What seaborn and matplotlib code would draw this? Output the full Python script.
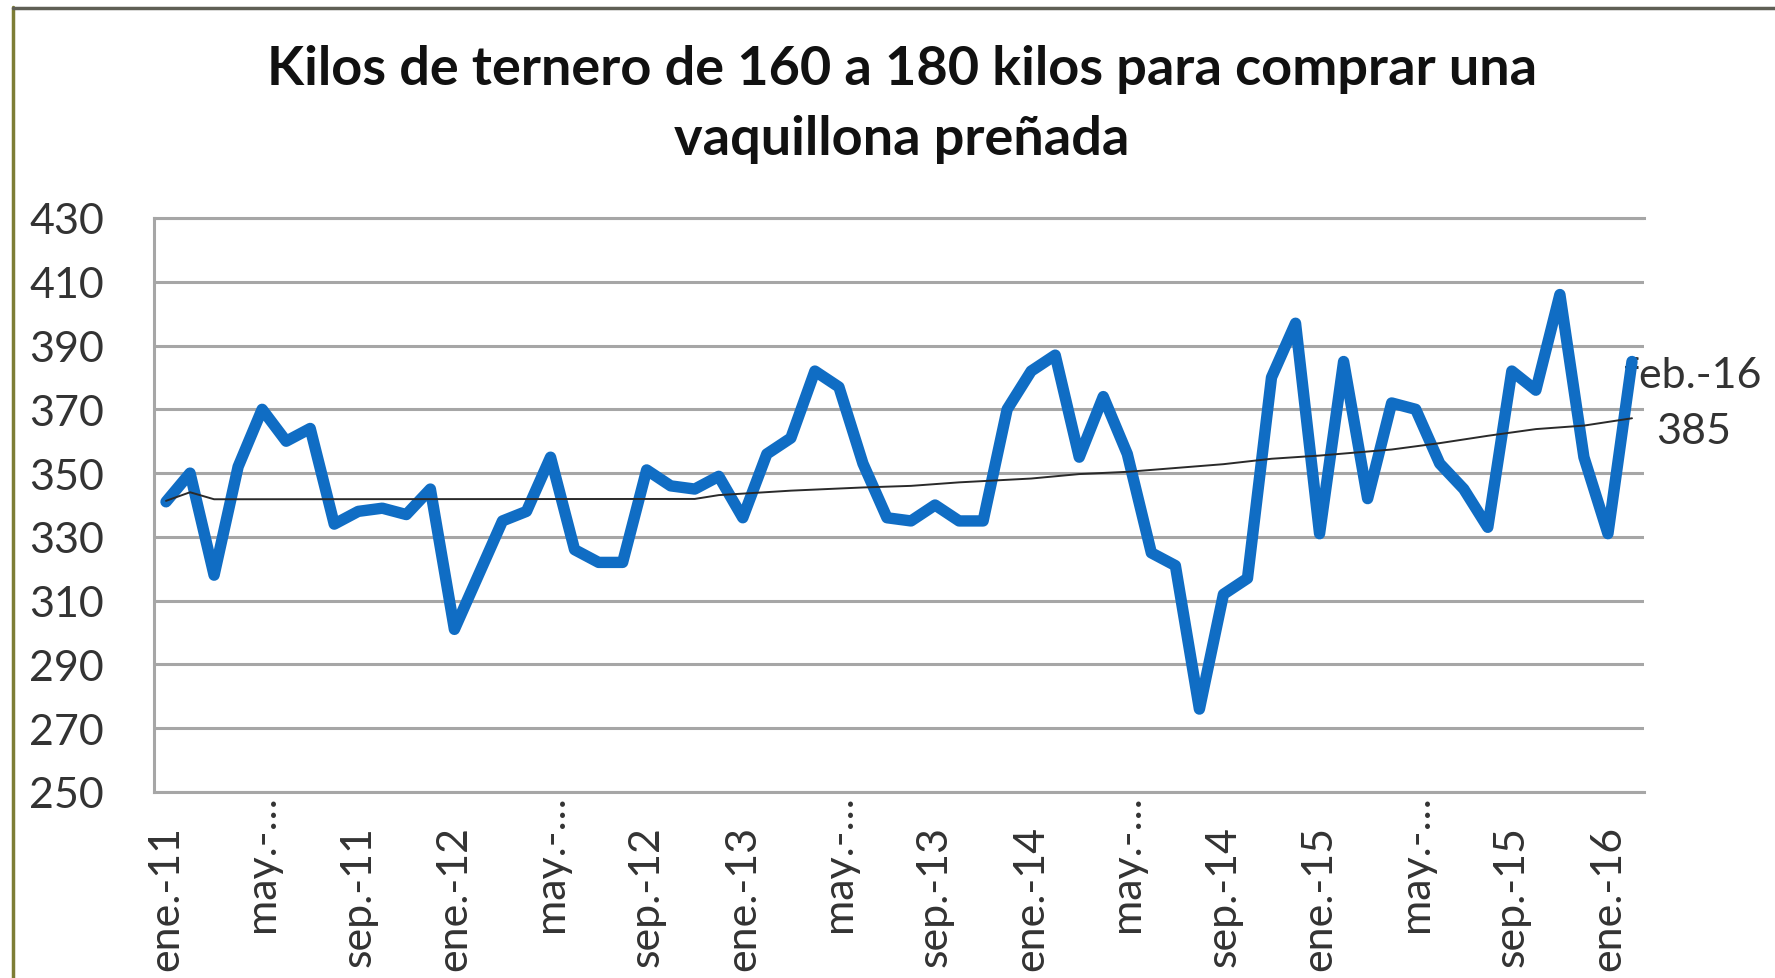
import numpy as np
import pandas as pd
import matplotlib
matplotlib.use("Agg")
import matplotlib.pyplot as plt
from matplotlib.lines import Line2D
import seaborn as sns

# monthly series, ene-11 .. feb-16 (kilos de ternero por vaquillona)
kilos = [341, 350, 318, 352, 370, 360, 364, 334, 338, 339, 337, 345,
         301, 318, 335, 338, 355, 326, 322, 322, 351, 346, 345, 349,
         336, 356, 361, 382, 377, 353, 336, 335, 340, 335, 335, 370,
         382, 387, 355, 374, 356, 325, 321, 276, 312, 317, 380, 397,
         331, 385, 342, 372, 370, 353, 345, 333, 382, 376, 406, 355,
         331, 385]

# trend line as drawn in the original (month index -> value)
trend_idx = [0, 1, 2, 22, 23, 26, 29, 31, 33, 36, 38, 40, 44, 46, 48, 51, 53, 55, 57, 59, 61]
trend_vals = [341.3, 344, 341.8, 341.9, 343.1, 344.5, 345.5, 346, 347.1, 348.3, 349.7,
              350.4, 352.8, 354.5, 355.5, 357.4, 359.4, 361.7, 363.8, 364.9, 367.2]

tick_pos = [0, 4, 8, 12, 16, 20, 24, 28, 32, 36, 40, 44, 48, 52, 56, 60]
tick_labels = ["ene.-11", "may.-…", "sep.-11", "ene.-12", "may.-…", "sep.-12",
               "ene.-13", "may.-…", "sep.-13", "ene.-14", "may.-…", "sep.-14",
               "ene.-15", "may.-…", "sep.-15", "ene.-16"]
y_ticks = [250, 270, 290, 310, 330, 350, 370, 390, 410, 430]

last_label = "feb.-16"
last_value = 385

df = pd.DataFrame({"mes": np.arange(len(kilos)), "kilos": kilos})
trend = pd.DataFrame({"mes": trend_idx, "kilos": trend_vals})

sns.set_theme(style="white")
plt.rcParams["font.family"] = ["Lato", "DejaVu Sans"]

W, H = 1775, 979
fig = plt.figure(figsize=(W / 100, H / 100), dpi=100)
fig.patch.set_facecolor("white")
ax = fig.add_axes([154 / W, 1 - 793 / H, (1644 - 154) / W, (793 - 219) / H])

grid_col = "#a6a6a6"
ax.yaxis.grid(True, color=grid_col, linewidth=2.2)
ax.set_axisbelow(True)

sns.lineplot(data=df, x="mes", y="kilos", ax=ax, color="#106dc4",
             linewidth=8.2, solid_joinstyle="round", solid_capstyle="round", zorder=3)
sns.lineplot(data=trend, x="mes", y="kilos", ax=ax, color="#2a2a2a",
             linewidth=1.4, zorder=4)

ax.set_xlim(-0.5, len(kilos) - 0.5)
ax.set_ylim(250, 430)
ax.set_yticks(y_ticks)
ax.set_xticks(tick_pos)
ax.set_xticklabels(tick_labels, rotation=90, ha="center", va="top")
ax.set_xlabel("")
ax.set_ylabel("")

for side in ["left", "bottom", "top"]:
    ax.spines[side].set_color(grid_col)
    ax.spines[side].set_linewidth(2.2)
ax.spines["right"].set_visible(False)

ax.tick_params(axis="both", length=0, labelsize=31, labelcolor="#333333")
ax.tick_params(axis="y", pad=36)
ax.tick_params(axis="x", pad=24)
for tick, lab in zip(ax.xaxis.get_major_ticks(), tick_labels):
    if lab.startswith("may"):
        tick.set_pad(1.5)

# data label on the last point
n = len(kilos) - 1
ax.annotate(last_label, xy=(n, last_value), xytext=(-8, -14), textcoords="offset pixels",
            ha="left", va="center", fontsize=31, color="#333333", zorder=2,
            annotation_clip=False)
ax.annotate(str(last_value), xy=(n, last_value), xytext=(24, -70), textcoords="offset pixels",
            ha="left", va="center", fontsize=31, color="#333333", annotation_clip=False)

# title (two lines)
fig.text(902 / W, 1 - 85 / H, "Kilos de ternero de 160 a 180 kilos para comprar una",
         ha="center", va="baseline", fontsize=39, fontweight="bold", color="#111111")
fig.text(902 / W, 1 - 155 / H, "vaquillona preñada",
         ha="center", va="baseline", fontsize=39, fontweight="bold", color="#111111")

# outer chart border
fig.add_artist(Line2D([13 / W, 13 / W], [0, 1 - 8 / H], transform=fig.transFigure,
                      color="#7d7d35", linewidth=2.5))
fig.add_artist(Line2D([13 / W, 1], [1 - 9 / H, 1 - 9 / H], transform=fig.transFigure,
                      color="#5f5f55", linewidth=2.5))

fig.savefig("out.png", dpi=100, facecolor="white")
